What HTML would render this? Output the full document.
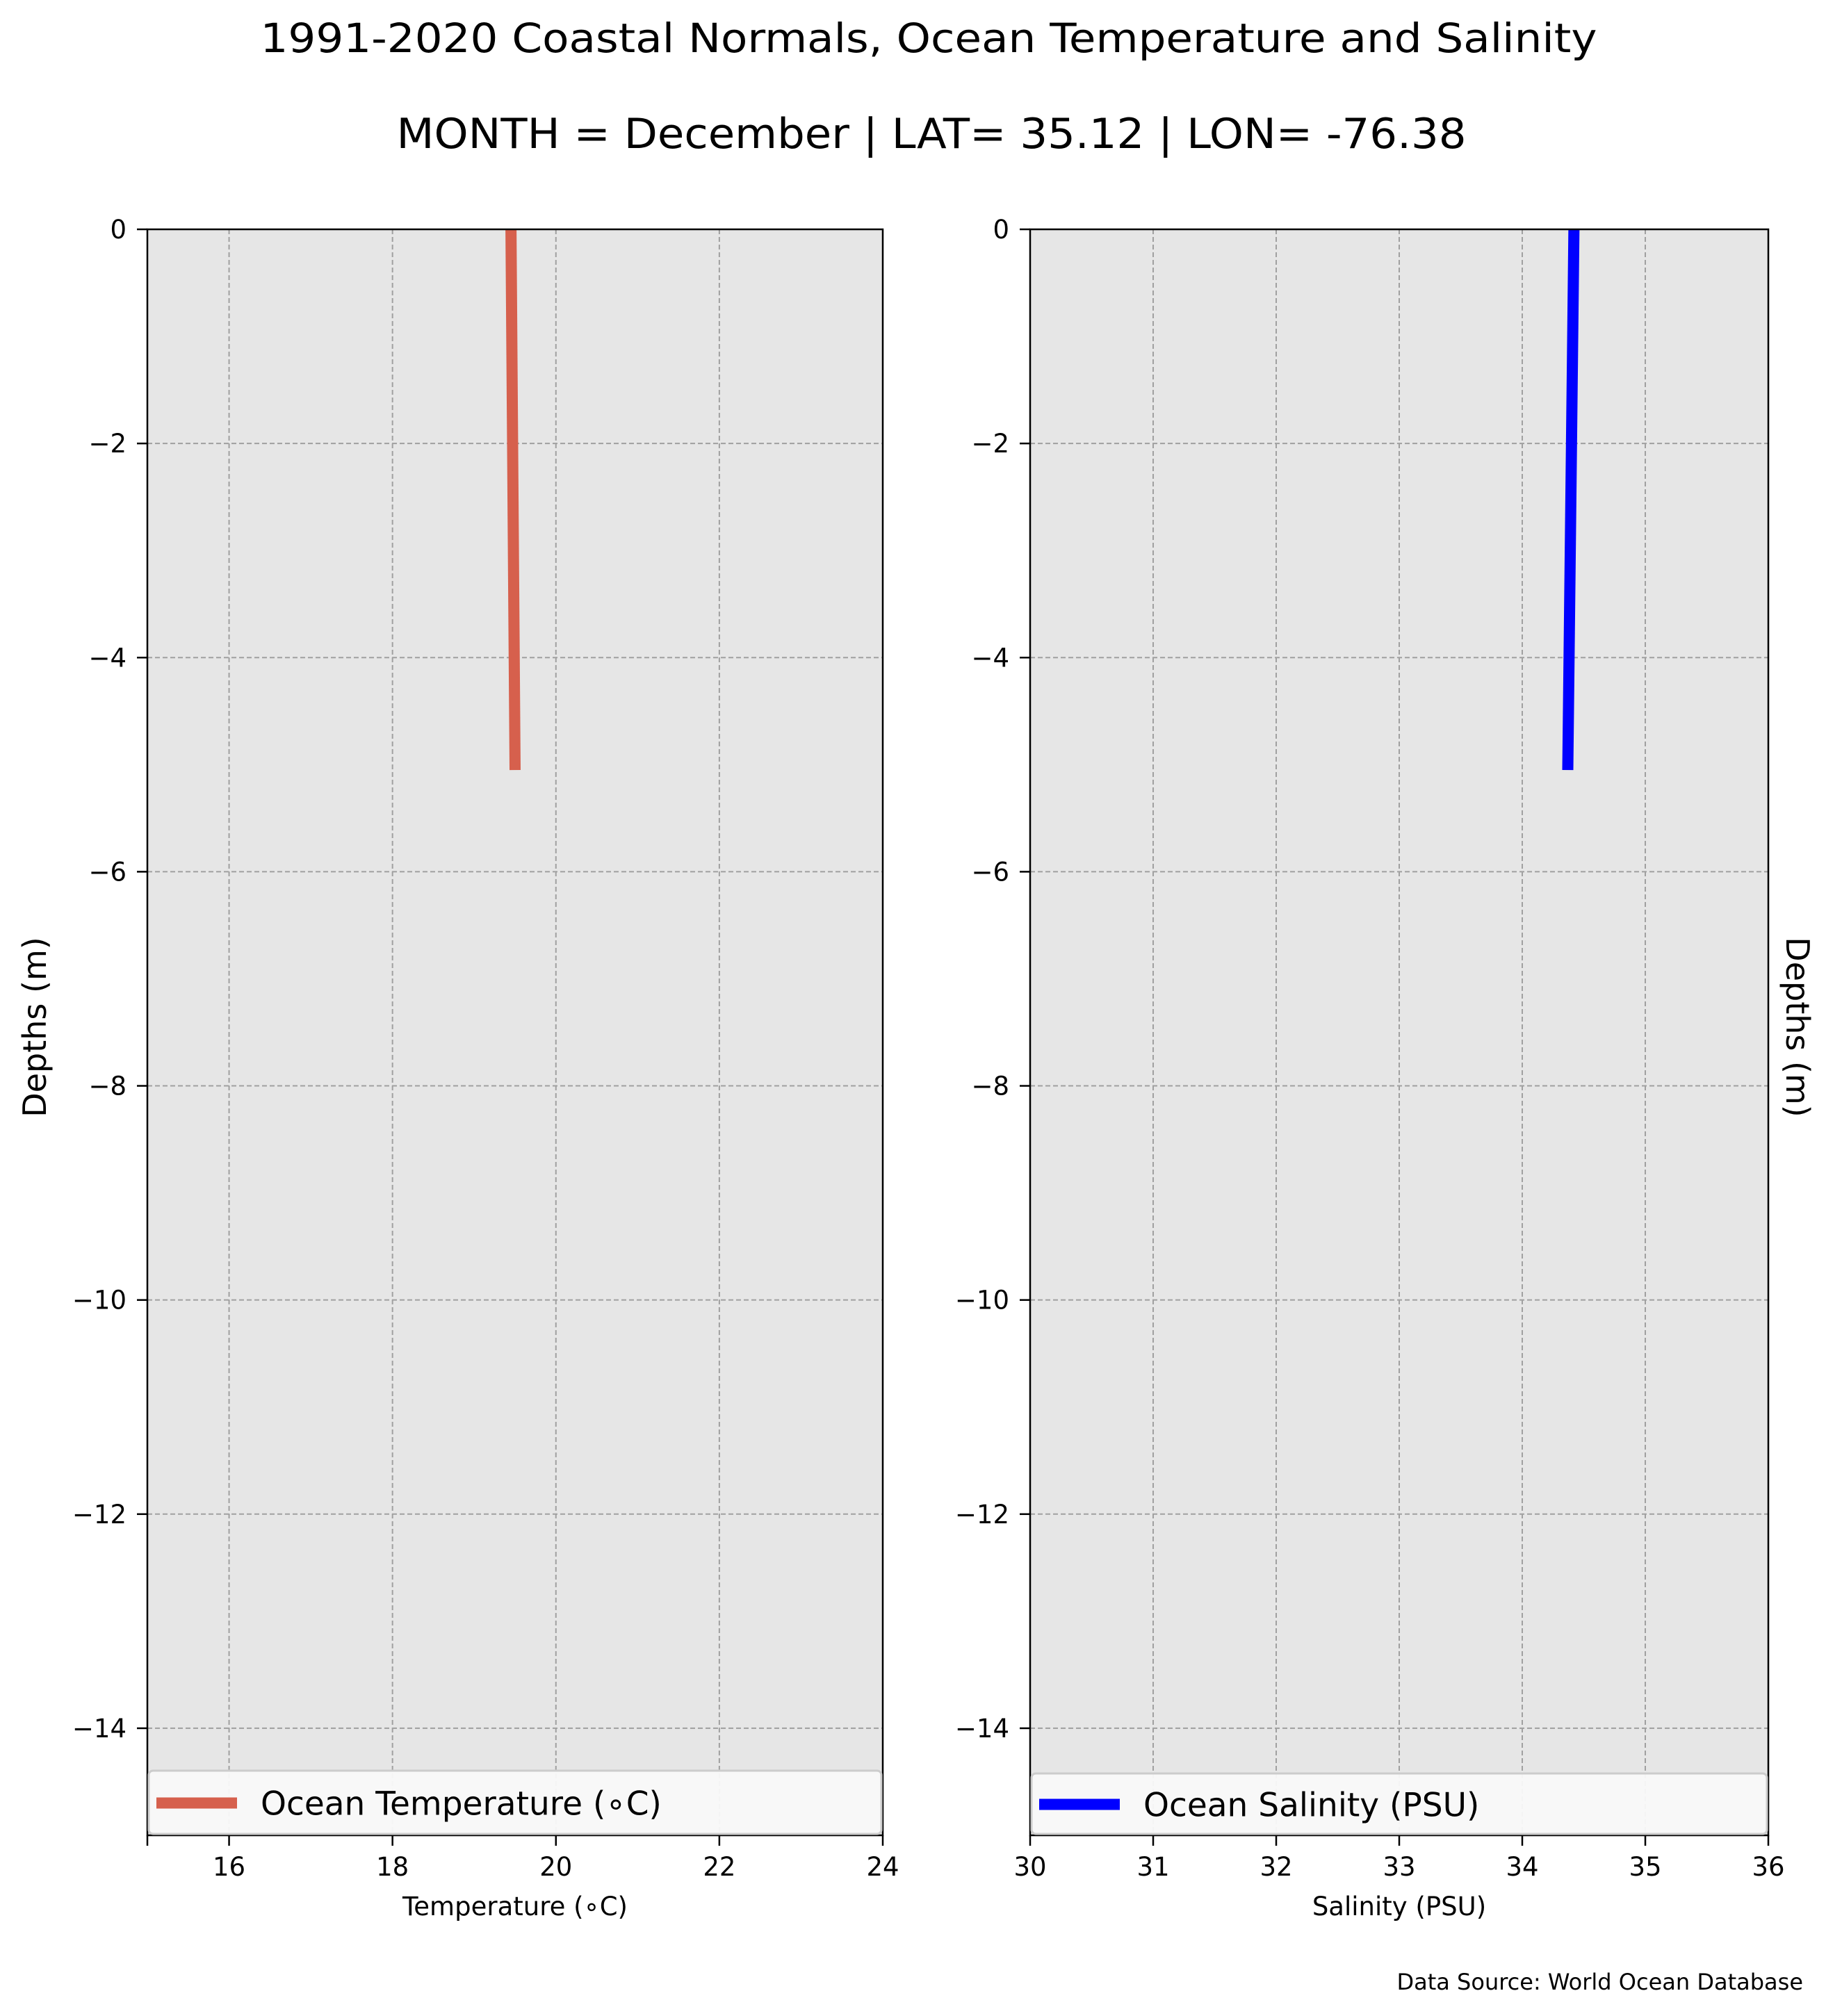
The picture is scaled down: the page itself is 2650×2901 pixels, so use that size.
<!DOCTYPE html>
<html><head><meta charset="utf-8"><style>
html,body{margin:0;padding:0;background:#fff;}
svg{display:block;font-family:"DejaVu Sans","Liberation Sans",sans-serif;}
</style></head><body>
<svg id="fig" width="2650" height="2901" viewBox="0 0 2650 2901" xmlns="http://www.w3.org/2000/svg">
<rect width="2650" height="2901" fill="#fff"/>
<text x="1336" y="75" font-size="58" text-anchor="middle" textLength="1923" lengthAdjust="spacingAndGlyphs">1991-2020 Coastal Normals, Ocean Temperature and Salinity</text>
<text x="1340" y="213" font-size="60" text-anchor="middle" textLength="1539" lengthAdjust="spacingAndGlyphs">MONTH = December | LAT= 35.12 | LON= -76.38</text>
<g id="left"></g>
<g id="right"></g>
<text transform="translate(66,1478) rotate(-90)" font-size="46" text-anchor="middle">Depths (m)</text>
<text transform="translate(2570,1478) rotate(90)" font-size="46" text-anchor="middle">Depths (m)</text>
<text x="2594" y="2863" font-size="32" text-anchor="end">Data Source: World Ocean Database</text>
</svg>
<script>
const depths = [0, -5.05];
const tempValues = [19.45, 19.5];
const salValues = [34.42, 34.37];
const yTicks = [0, -2, -4, -6, -8, -10, -12, -14];
const tempTicks = [16, 18, 20, 22, 24];
const salTicks = [30, 31, 32, 33, 34, 35, 36];

const NS = "http://www.w3.org/2000/svg";
const plotTop = 330, plotBottom = 2641;
function yScale(v){ return plotTop + (0 - v) / 15 * (plotBottom - plotTop); }
function mk(parent, tag, attrs){ const e = document.createElementNS(NS, tag); for (const k in attrs) e.setAttribute(k, attrs[k]); parent.appendChild(e); return e; }

function panel(g, x0, x1, xmin, xmax, xTicks, vals, color, legendText, xlabel, extraTicks, legTop){
  const xs = v => x0 + (v - xmin) / (xmax - xmin) * (x1 - x0);
  const bg = mk(g, 'rect', {x:x0, y:plotTop, width:x1-x0, height:plotBottom-plotTop, fill:'#e6e6e6'});
  
  
  xTicks.forEach(t => {
    const gl = mk(g, 'line', {x1:xs(t), x2:xs(t), y1:plotTop, y2:plotBottom, stroke:'#a0a0a0', 'stroke-width':2, 'stroke-dasharray':'7,4'});
    
    
  });
  yTicks.forEach(t => {
    const gl = mk(g, 'line', {x1:x0, x2:x1, y1:yScale(t), y2:yScale(t), stroke:'#a0a0a0', 'stroke-width':2, 'stroke-dasharray':'7,4'});
    
    
    const tk = mk(g, 'line', {x1:x0-15, x2:x0, y1:yScale(t), y2:yScale(t), stroke:'#000', 'stroke-width':2.5});
    
    
    const lb = mk(g, 'text', {x:x0-30, y:yScale(t)+13, 'font-size':37, 'text-anchor':'end'});
    lb.textContent = t === 0 ? '0' : '\u2212' + Math.abs(t);
    
    
  });
  const pts = vals.map((v, i) => xs(v) + ',' + yScale(depths[i])).join(' ');
  const ln = mk(g, 'polyline', {points:pts, fill:'none', stroke:color, 'stroke-width':16});
  
  
  const fr = mk(g, 'rect', {x:x0, y:plotTop, width:x1-x0, height:plotBottom-plotTop, fill:'none', stroke:'#000', 'stroke-width':2.5});
  
  
  const leg = mk(g, 'g', {});
  
  
  mk(leg, 'rect', {x:x0+2, y:legTop, width:x1-x0-4, height:plotBottom-legTop-2, rx:6, fill:'#f9f9f9', 'fill-opacity':0.95, stroke:'#cccccc', 'stroke-width':3});
  const lh = mk(leg, 'line', {x1:x0+13, x2:x0+129, y1:(legTop+plotBottom)/2, y2:(legTop+plotBottom)/2, stroke:color, 'stroke-width':16});
  
  
  const lt = mk(leg, 'text', {x:x0+163, y:(legTop+plotBottom)/2+17, 'font-size':47});
  lt.textContent = legendText;
  
  
  xTicks.concat(extraTicks).forEach(t => {
    const tk = mk(g, 'line', {x1:xs(t), x2:xs(t), y1:plotBottom, y2:plotBottom+15, stroke:'#000', 'stroke-width':2.5});
    
    
  });
  xTicks.forEach(t => {
    const lb = mk(g, 'text', {x:xs(t), y:plotBottom+58, 'font-size':37, 'text-anchor':'middle'});
    lb.textContent = String(t);
    
    
  });
  const xl = mk(g, 'text', {x:(x0+x1)/2, y:plotBottom+115, 'font-size':37, 'text-anchor':'middle'});
  xl.textContent = xlabel;
  
  
}
panel(document.getElementById('left'), 212, 1270, 15, 24, tempTicks, tempValues, '#d6604d', 'Ocean Temperature (\u2218C)', 'Temperature (\u2218C)', [15], 2548);
panel(document.getElementById('right'), 1482, 2544, 30, 36, salTicks, salValues, '#0000ff', 'Ocean Salinity (PSU)', 'Salinity (PSU)', [], 2552);
</script>
</body></html>
